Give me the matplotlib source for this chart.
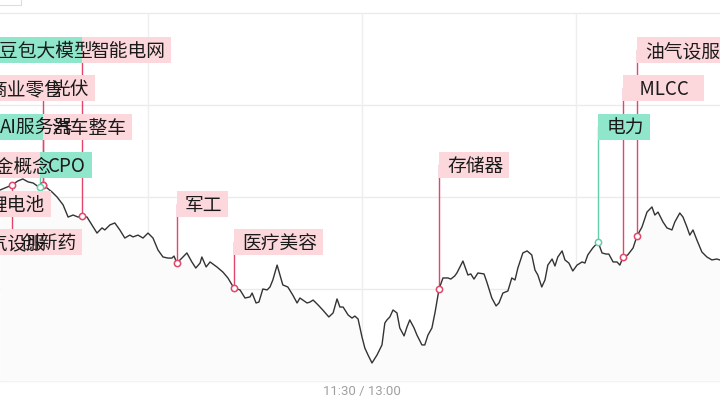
import matplotlib.pyplot as plt
import numpy as np
from matplotlib.patches import Rectangle

plt.rcParams['font.family'] = ['Noto Sans CJK SC', 'DejaVu Sans']

# Intraday index move (%), minutes counted from 9:30 with the lunch break removed
minutes = [18.5, 19.9, 21.9, 23.5, 24.9, 26.4, 27.8, 29.4, 30.6, 31.7,
           33.1, 34.5, 36.2, 37.6, 39.0, 40.4, 41.5, 42.9, 44.3, 45.7,
           47.1, 47.9, 49.3, 50.7, 52.1, 53.5, 54.9, 55.8, 57.2, 58.6,
           60.0, 61.4, 62.8, 64.2, 65.6, 66.7, 67.3, 68.1, 69.5, 70.9,
           72.3, 73.4, 74.6, 75.1, 76.3, 77.4, 79.3, 81.0, 82.4, 84.1,
           85.8, 87.2, 88.6, 89.2, 90.3, 91.1, 92.2, 93.4, 94.2, 95.0,
           96.2, 97.0, 97.8, 99.2, 100.6, 101.8, 102.6, 103.4, 104.6, 105.4,
           106.3, 107.7, 109.0, 110.7, 111.9, 113.0, 113.8, 114.7, 116.1, 117.2,
           118.0, 118.9, 120.0, 120.8, 121.7, 122.8, 124.2, 125.6, 126.4, 127.0,
           127.8, 128.7, 129.8, 130.6, 131.8, 132.6, 133.4, 134.6, 135.4, 136.8,
           137.6, 138.5, 139.6, 140.5, 141.6, 142.7, 144.1, 144.9, 146.0, 146.6,
           148.3, 149.7, 150.5, 151.4, 152.5, 154.2, 155.0, 156.4, 157.6, 158.4,
           159.5, 160.9, 162.0, 162.9, 163.7, 165.1, 166.3, 167.6, 168.5, 169.3,
           170.4, 171.3, 172.1, 173.3, 174.1, 174.9, 176.1, 176.9, 178.0, 179.1,
           180.3, 181.7, 182.5, 183.3, 184.7, 186.2, 187.3, 188.4, 189.2, 190.4,
           191.5, 192.3, 193.2, 194.5, 196.0, 197.1, 198.5, 199.9, 201.3, 202.1,
           203.0, 204.4, 205.5, 206.9, 207.7, 209.1, 210.0, 211.1, 211.9, 212.8,
           213.9, 215.3, 216.7, 218.1, 219.5, 220.3]
values = [0.038, 0.049, 0.065, 0.087, 0.098, 0.082, 0.076, 0.054, 0.065, 0.049,
          0.027, 0.0, -0.043, -0.109, -0.098, -0.109, -0.103, -0.109, -0.152, -0.196,
          -0.168, -0.179, -0.152, -0.141, -0.179, -0.223, -0.207, -0.217, -0.207, -0.223,
          -0.196, -0.223, -0.288, -0.326, -0.332, -0.332, -0.321, -0.359, -0.332, -0.304,
          -0.353, -0.386, -0.359, -0.326, -0.380, -0.353, -0.380, -0.408, -0.440, -0.495,
          -0.505, -0.549, -0.543, -0.522, -0.576, -0.571, -0.500, -0.505, -0.489, -0.451,
          -0.370, -0.424, -0.478, -0.489, -0.533, -0.576, -0.549, -0.560, -0.576, -0.571,
          -0.560, -0.587, -0.614, -0.652, -0.630, -0.554, -0.598, -0.598, -0.641, -0.658,
          -0.647, -0.663, -0.761, -0.821, -0.859, -0.902, -0.859, -0.804, -0.685, -0.668,
          -0.652, -0.614, -0.630, -0.712, -0.755, -0.707, -0.668, -0.712, -0.750, -0.804,
          -0.804, -0.750, -0.712, -0.625, -0.500, -0.440, -0.440, -0.446, -0.429, -0.413,
          -0.348, -0.424, -0.418, -0.446, -0.413, -0.418, -0.462, -0.549, -0.592, -0.576,
          -0.522, -0.511, -0.440, -0.451, -0.386, -0.304, -0.293, -0.315, -0.397, -0.424,
          -0.489, -0.451, -0.370, -0.337, -0.375, -0.326, -0.293, -0.342, -0.359, -0.402,
          -0.370, -0.353, -0.359, -0.315, -0.277, -0.245, -0.304, -0.310, -0.310, -0.353,
          -0.353, -0.370, -0.326, -0.315, -0.277, -0.212, -0.163, -0.082, -0.054, -0.098,
          -0.082, -0.136, -0.168, -0.179, -0.136, -0.087, -0.109, -0.163, -0.207, -0.179,
          -0.234, -0.299, -0.326, -0.342, -0.337, -0.342]

# Sector event tags: name, minute, stacking row, group
tag_names = ["豆包大模型", "智能电网", "商业零售", "光伏", "AI服务器", "汽车整车",
             "黄金概念", "CPO", "锂电池", "油气设服", "创新药",
             "军工", "医疗美容", "存储器", "电力", "  MLCC  ", "油气设服"]
tag_minutes = [16.0, 41.5, 13.2, 30.6, 16.3, 30.6,
               9.6, 29.7, 13.0, 8.0, 21.9,
               68.1, 84.1, 141.6, 186.2, 193.2, 197.1]
tag_rows = [1, 1, 2, 2, 3, 3, 4, 4, 5, 6, 6, 5, 6, 4, 3, 2, 1]
tag_groups = ["b", "a", "a", "a", "b", "a", "a", "b", "a", "a", "a",
              "a", "a", "a", "b", "a", "a"]

box_colors = {"a": "#fcd8dc", "b": "#8fe6cb"}
line_colors = {"a": "#e2466b", "b": "#62cfa9"}

fig = plt.figure(figsize=(7.2, 4.05), dpi=100)
ax = fig.add_axes([-66 / 720, 24 / 405, 856 / 720, 368 / 405])
ax.set_xlim(0, 240)
ax.set_ylim(-1, 1)
ax.axis("off")

px_x = 240 / 856
px_y = 2.0 / 368

for yv in [1.0, 0.5, 0.0, -0.5, -1.0]:
    ax.axhline(yv, color="#ebebeb", lw=1, zorder=0, clip_on=False)
for xv in [60, 120, 180]:
    ax.axvline(xv, color="#eeeeee", lw=1, zorder=0)

ax.fill_between(minutes, values, -1, color="#fbfbfb", zorder=1, lw=0)
ax.plot(minutes, values, color="#333333", lw=1, zorder=3)

fig.canvas.draw()
renderer = fig.canvas.get_renderer()

for name, m, row, g in zip(tag_names, tag_minutes, tag_rows, tag_groups):
    level = 0.799 - (row - 1) * 0.2092
    base = np.interp(m, minutes, values)
    ax.plot([m, m], [base, level], color=line_colors[g], lw=1, zorder=2)
    ax.plot(m, base, "o", ms=4.5, mfc="white", mec=line_colors[g], mew=1.1, zorder=4)
    t = ax.annotate(name, (m, level), xytext=(5.8, -1), textcoords="offset points",
                    ha="left", va="center", fontsize=13.5, color="#1a1a1a", zorder=8)
    ext = t.get_window_extent(renderer)
    x0 = ax.transData.transform((m, level))[0]
    w = (ext.x1 - x0 + 6) * px_x
    ax.add_patch(Rectangle((m, level - 13 * px_y), w, 26 * px_y,
                           facecolor=box_colors[g], lw=0, zorder=6))

# small leftover frame in the top-left corner
fig.patches.append(Rectangle((-0.01, 1 - 5 / 405), 28 / 720, 0.03, transform=fig.transFigure,
                             facecolor="white", edgecolor="#dddddd", lw=0.8))

fig.text(362 / 720, 13 / 405, "11:30 / 13:00", ha="center", va="center",
         fontsize=9.5, color="#a0a0a0", family="Roboto")

fig.savefig("out.png", dpi=100)
